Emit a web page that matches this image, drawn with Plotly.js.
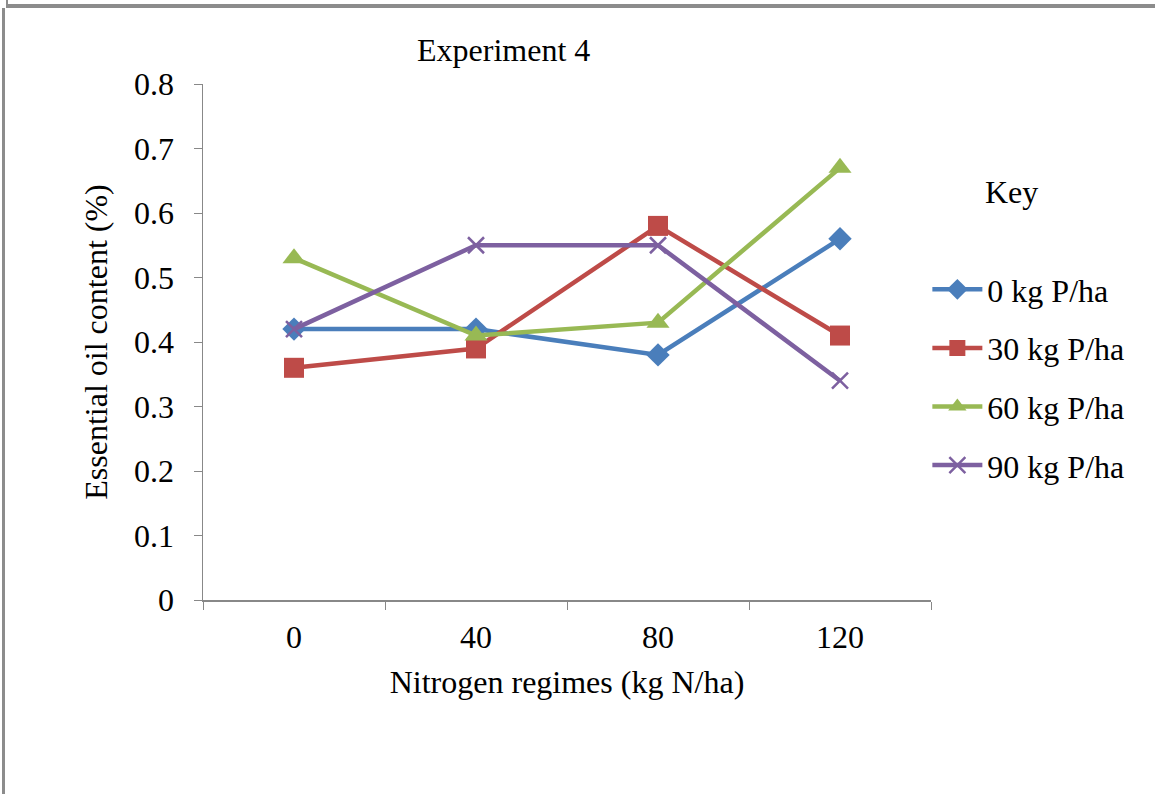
<!DOCTYPE html>
<html><head><meta charset="utf-8">
<script src="https://cdn.plot.ly/plotly-3.0.1.min.js"></script>
<style>
html,body{margin:0;padding:0;background:#fff;width:1155px;height:794px;overflow:hidden;}
#chart{position:absolute;left:0;top:0;width:1155px;height:794px;}
.fr{position:absolute;background:#8c8c8c;}
</style></head>
<body>
<div id="chart"></div>
<div class="fr" style="left:6px;top:0;width:2px;height:5px;"></div>
<div class="fr" style="left:6px;top:4px;width:1149px;height:4px;"></div>
<div class="fr" style="left:2px;top:8px;width:3px;height:786px;"></div>
<script>
const categories = ['0', '40', '80', '120'];
const seriesNames = ['0 kg P/ha', '30 kg P/ha', '60 kg P/ha', '90 kg P/ha'];
const p0 = [0.42, 0.42, 0.38, 0.56];
const p30 = [0.36, 0.39, 0.58, 0.41];
const p60 = [0.53, 0.41, 0.43, 0.67];
const p90 = [0.42, 0.55, 0.55, 0.34];
const yTicks = [0, 0.1, 0.2, 0.3, 0.4, 0.5, 0.6, 0.7, 0.8];
const yTickText = ['0', '0.1', '0.2', '0.3', '0.4', '0.5', '0.6', '0.7', '0.8'];

const colors = ['#4a7ebb', '#be4b48', '#98b954', '#7d60a0'];
const symbols = ['diamond', 'square', 'triangle-up', 'x-thin-open'];
const sizes = [18, 20, 20, 16];
const vals = [p0, p30, p60, p90];
const FONT = 'Liberation Serif, Times New Roman, serif';

const traces = vals.map((v, i) => ({
  type: 'scatter', mode: 'lines+markers', x: categories, y: v, name: seriesNames[i],
  legendgroup: 'g' + i,
  line: {color: colors[i], width: 4.5},
  marker: {symbol: symbols[i], size: sizes[i], color: colors[i], line: {color: colors[i], width: i === 3 ? 2.5 : 0}}
}));

const layout = {
  width: 1155, height: 794,
  margin: {l: 203, r: 224, t: 84, b: 194},
  paper_bgcolor: '#fff', plot_bgcolor: '#fff',
  font: {family: FONT, size: 32, color: '#000'},
  showlegend: true,
  legend: {x: 0.995, xanchor: 'left', y: 0.655, yanchor: 'top', font: {family: FONT, size: 32, color: '#000'},
           traceorder: 'grouped', tracegroupgap: 14, itemwidth: 50, bgcolor: 'rgba(0,0,0,0)'},
  xaxis: {type: 'category', categoryorder: 'array', categoryarray: categories,
          range: [-0.5, 3.5], tickson: 'boundaries', ticks: 'outside', ticklen: 8, tickcolor: '#888',
          showline: true, linecolor: '#888', linewidth: 1.5, showgrid: false, zeroline: false,
          tickfont: {family: FONT, size: 32}, ticklabelstandoff: 8,
          title: {text: 'Nitrogen regimes (kg N/ha)', font: {family: FONT, size: 32}, standoff: 16}},
  yaxis: {range: [0, 0.8], tickvals: yTicks, ticktext: yTickText, ticks: 'outside', ticklen: 8, tickcolor: '#888',
          showline: true, linecolor: '#888', linewidth: 1.5, showgrid: false, zeroline: false,
          tickfont: {family: FONT, size: 32}, ticklabelstandoff: 13,
          title: {text: 'Essential oil content (%)', font: {family: FONT, size: 32}, standoff: 17}},
  annotations: [
    {text: 'Experiment 4', xref: 'paper', yref: 'paper', x: 0.413, y: 1.066, xanchor: 'center', yanchor: 'middle',
     showarrow: false, font: {family: FONT, size: 32}},
    {text: 'Key', xref: 'paper', yref: 'paper', x: 1.11, y: 0.79, xanchor: 'center', yanchor: 'middle',
     showarrow: false, font: {family: FONT, size: 32}}
  ]
};
Plotly.newPlot('chart', traces, layout, {displayModeBar: false, staticPlot: true});
</script>
</body></html>
